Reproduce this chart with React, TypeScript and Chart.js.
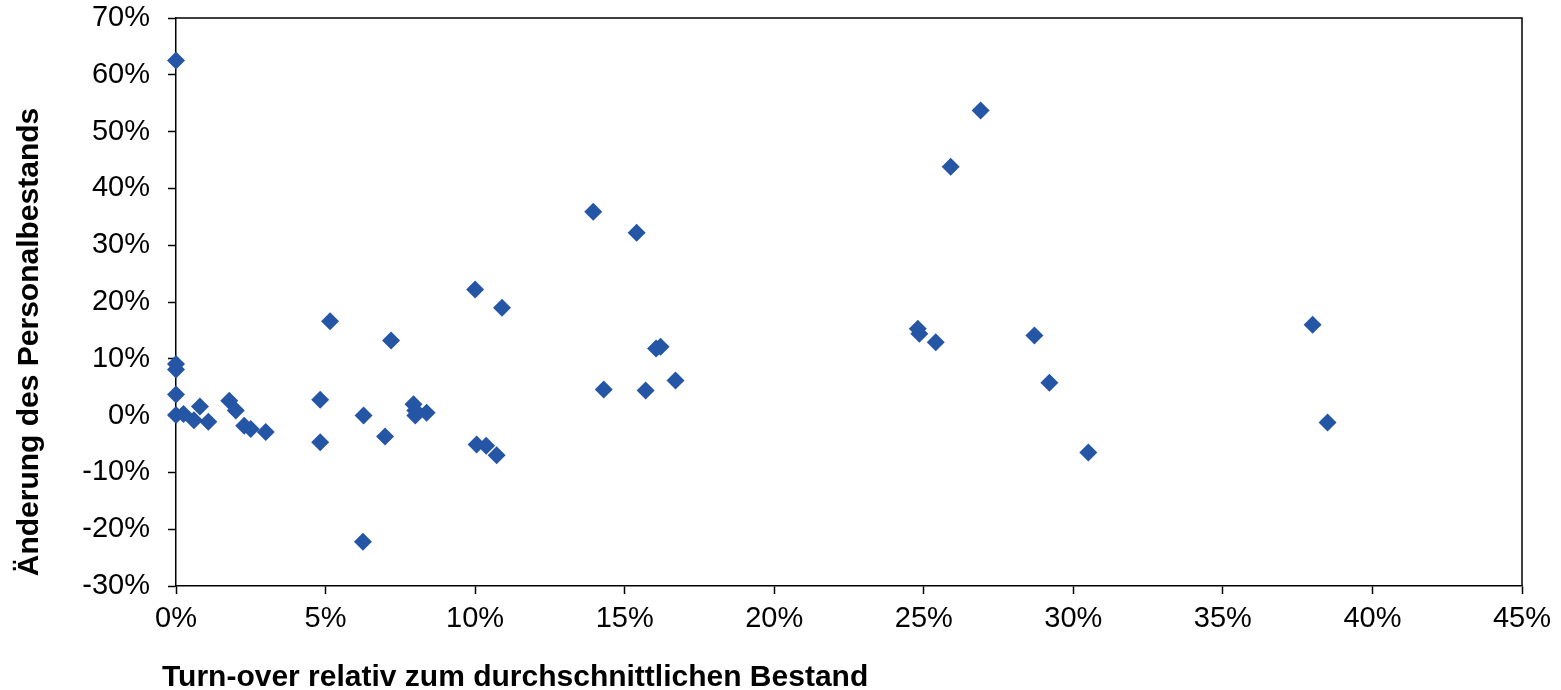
import React, { useEffect, useRef } from "react";
import { Chart, registerables } from "chart.js";

Chart.register(...registerables);

const xValues = [
  0, 0, 0, 0, 0, 0.25, 0.6, 0.8, 1.08, 1.78, 2.0, 2.28, 2.5, 3.0, 4.82, 4.82, 5.15, 6.27, 6.25, 6.99, 7.19,
  7.94, 8.0, 8.0, 8.38, 10.0, 10.05, 10.37, 10.72, 10.9, 13.95, 14.3, 15.4, 15.7, 16.05, 16.2, 16.7,
  24.8, 24.85, 25.4, 25.9, 26.9, 28.7, 29.2, 30.5, 38.0, 38.5,
];
const yValues = [
  62.5, 9.1, 8.1, 3.7, 0.1, 0.3, -0.8, 1.6, -1.1, 2.6, 0.9, -1.8, -2.35, -2.9, 2.8, -4.7, 16.6, 0, -22.2, -3.7, 13.2,
  2.0, 0.9, 0, 0.5, 22.2, -5.1, -5.3, -7.0, 19.0, 35.9, 4.6, 32.2, 4.4, 11.8, 12.1, 6.2,
  15.3, 14.4, 12.9, 43.8, 53.7, 14.1, 5.8, -6.5, 16.0, -1.2,
];
const xTicks = [0, 5, 10, 15, 20, 25, 30, 35, 40, 45];
const yTicks = [-30, -20, -10, 0, 10, 20, 30, 40, 50, 60, 70];
const xTitle = "Turn-over relativ zum durchschnittlichen Bestand";
const yTitle = "Änderung des Personalbestands";

const FONT = "'Liberation Sans', Arial, sans-serif";

export default function App() {
  const ref = useRef<HTMLCanvasElement | null>(null);

  useEffect(() => {
    document.body.style.margin = "0";
    const canvas = ref.current;
    if (!canvas) return;
    const points = xValues.map((x, i) => ({ x, y: yValues[i] }));

    const framePlugin = {
      id: "frameAndTitles",
      afterDraw(chart: any) {
        const { ctx, chartArea } = chart;
        ctx.save();
        ctx.strokeStyle = "#000";
        ctx.lineWidth = 1.5;
        ctx.beginPath();
        ctx.moveTo(chartArea.left, chartArea.top);
        ctx.lineTo(chartArea.right, chartArea.top);
        ctx.lineTo(chartArea.right, chartArea.bottom);
        ctx.stroke();
        ctx.fillStyle = "#000";
        ctx.font = `bold 30px ${FONT}`;
        ctx.textAlign = "left";
        ctx.textBaseline = "middle";
        ctx.fillText(xTitle, chartArea.left - 14, 678);
        ctx.translate(30, 342);
        ctx.rotate(-Math.PI / 2);
        ctx.textAlign = "center";
        ctx.fillText(yTitle, 0, 0);
        ctx.restore();
      },
    };

    const gridOpts = {
      display: true,
      drawOnChartArea: false,
      drawTicks: true,
      tickLength: 8,
      tickColor: "#000",
      tickWidth: 1.5,
    };

    const chart = new Chart(canvas, {
      type: "scatter",
      data: {
        datasets: [
          {
            data: points,
            pointStyle: "rectRot",
            pointRadius: 9,
            pointHoverRadius: 9,
            backgroundColor: "#2556A6",
            borderColor: "#2556A6",
            borderWidth: 0,
            clip: false,
          },
        ],
      },
      options: {
        animation: false,
        responsive: false,
        maintainAspectRatio: false,
        events: [],
        layout: { padding: { left: 0, right: 39, top: 18, bottom: 0 } },
        plugins: { legend: { display: false }, tooltip: { enabled: false } },
        scales: {
          x: {
            type: "linear",
            min: 0,
            max: 45,
            afterBuildTicks: (scale: any) => {
              scale.ticks = xTicks.map((v) => ({ value: v }));
            },
            afterFit: (scale: any) => {
              scale.height = 104;
              scale.paddingLeft = 0;
              scale.paddingRight = 0;
            },
            grid: gridOpts,
            border: { display: true, color: "#000", width: 1.5 },
            ticks: {
              color: "#000",
              font: { family: FONT, size: 29 },
              padding: 8,
              maxRotation: 0,
              autoSkip: false,
              callback: (v: any) => `${v}%`,
            },
          },
          y: {
            type: "linear",
            min: -30,
            max: 70,
            afterBuildTicks: (scale: any) => {
              scale.ticks = yTicks.map((v) => ({ value: v }));
            },
            afterFit: (scale: any) => {
              scale.width = 176;
              scale.paddingTop = 0;
              scale.paddingBottom = 0;
            },
            grid: gridOpts,
            border: { display: true, color: "#000", width: 1.5 },
            ticks: {
              color: "#000",
              font: { family: FONT, size: 29 },
              padding: 18,
              autoSkip: false,
              callback: (v: any) => `${v}%`,
            },
          },
        },
      },
      plugins: [framePlugin],
    });
    return () => chart.destroy();
  }, []);

  return (
    <div style={{ position: "relative", width: 1561, height: 690 }}>
      <canvas ref={ref} width={1561} height={690} style={{ width: 1561, height: 690, display: "block" }} />
    </div>
  );
}
